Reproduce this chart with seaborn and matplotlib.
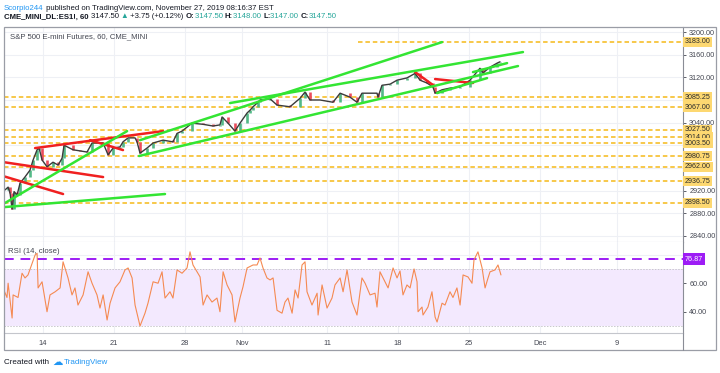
import numpy as np
import matplotlib
matplotlib.use("Agg")
import matplotlib.pyplot as plt
import matplotlib.transforms as mtransforms
from matplotlib.patches import Rectangle
from matplotlib.lines import Line2D
import seaborn as sns

sns.set_style("white")
plt.rcParams['font.family'] = ['Liberation Sans', 'DejaVu Sans']

# ---- datos (x = dias de trading, 0 = 14 oct) ----
price_day = [-2.68, -2.46, -2.32, -2.18, -2.04, -1.83, -1.62, -1.27, -0.92, -0.70,
             -0.42, -0.28, -0.07, 0.28, 0.70, 1.06, 1.34, 1.48, 2.11, 2.61,
             3.10, 3.45, 4.23, 4.58, 4.93, 5.42, 5.63, 5.99, 6.48, 6.62,
             6.83, 7.32, 7.75, 8.45, 9.15, 9.44, 9.79, 10.49, 11.27, 11.97,
             12.46, 12.61, 13.03, 13.52, 13.87, 14.37, 14.58, 14.79, 15.14, 15.28,
             15.99, 16.48, 17.39, 18.10, 18.45, 18.80, 19.51, 20.42, 20.92, 21.62,
             22.11, 22.46, 23.52, 23.59, 23.87, 24.44, 24.93, 25.63, 26.20, 26.55,
             27.04, 27.46, 27.61, 28.10, 28.66, 29.37, 30.07, 30.77, 30.99, 31.48,
             31.97, 32.18]
price_close = [2921, 2926, 2915, 2887, 2918, 2912, 2933, 2944, 2956, 2974,
               2992, 2995, 2974, 2962, 2970, 2965, 2977, 3000, 2992, 2990,
               2988, 3004, 3004, 2983, 2995, 2997, 3006, 3013, 3013, 3006,
               2986, 2995, 3004, 3009, 3006, 3021, 3025, 3039, 3037, 3034,
               3036, 3050, 3039, 3025, 3039, 3057, 3062, 3068, 3076, 3080,
               3082, 3071, 3068, 3083, 3094, 3080, 3080, 3076, 3092, 3085,
               3076, 3092, 3092, 3085, 3106, 3108, 3115, 3119, 3127, 3115,
               3110, 3103, 3092, 3098, 3101, 3103, 3115, 3136, 3128, 3138,
               3145, 3147.5]

rsi_day = [-2.82, -2.54, -2.46, -2.18, -2.11, -1.76, -1.48, -1.27, -1.06, -0.77,
           -0.56, -0.42, -0.35, -0.07, 0.28, 0.49, 0.85, 1.20, 1.41, 1.76,
           2.04, 2.25, 2.46, 2.82, 3.17, 3.45, 3.80, 4.01, 4.23, 4.51,
           4.72, 5.07, 5.42, 5.77, 5.99, 6.27, 6.48, 6.83, 7.18, 7.39,
           7.75, 8.10, 8.38, 8.59, 8.94, 9.15, 9.44, 9.79, 10.14, 10.35,
           10.56, 11.06, 11.27, 11.55, 11.90, 12.25, 12.46, 12.68, 12.96, 13.31,
           13.52, 13.87, 14.08, 14.37, 14.79, 15.07, 15.28, 15.49, 15.77, 15.99,
           16.20, 16.48, 16.83, 17.04, 17.25, 17.54, 17.75, 17.96, 18.24, 18.45,
           18.59, 18.94, 19.30, 19.37, 19.65, 20.00, 20.35, 20.56, 20.92, 21.13,
           21.41, 21.76, 22.11, 22.46, 22.68, 23.03, 23.38, 23.52, 23.73, 24.08,
           24.30, 24.65, 24.93, 25.14, 25.35, 25.63, 25.85, 26.13, 26.34, 26.41,
           26.69, 26.76, 27.11, 27.39, 27.61, 27.75, 28.10, 28.31, 28.66, 28.87,
           29.15, 29.37, 29.58, 29.93, 30.21, 30.35, 30.63, 30.92, 31.13, 31.34,
           31.48, 31.83, 32.04, 32.25]
rsi_val = [56.7, 50, 60, 35.6, 51.8, 50, 67, 63.7, 65.8, 74,
           79.8, 81, 56.7, 61, 40, 51.8, 54, 56.7, 75, 63.7,
           51.8, 56.7, 44.7, 51.8, 68, 60, 51.8, 42.6, 51.8, 34.2,
           46, 56.7, 61, 69.3, 70.7, 63.7, 44.7, 30, 39, 46,
           61, 60, 68, 49.6, 54, 49.6, 69.3, 67, 70.7, 82,
           72.8, 64.4, 44.7, 51.8, 46.8, 49.6, 40, 68, 58.8, 51.8,
           32.8, 49.6, 57.4, 70.7, 72.8, 72.8, 77.7, 70.7, 63.7, 62.3,
           63.7, 41, 39, 46.8, 49.6, 39, 55.3, 49.6, 72.8, 75,
           54, 44.7, 53, 37.7, 58.8, 42.6, 49.6, 58.8, 63.7, 54,
           69.3, 46.8, 37.7, 63.7, 60, 51.8, 53, 43.3, 68, 61,
           56.7, 70.7, 63.7, 68.6, 51.8, 58.8, 56.7, 70, 61, 40,
           43.3, 37.7, 43.3, 54, 36.3, 32.8, 46, 44.7, 54, 50,
           56.7, 44.7, 65.8, 64.4, 60, 76.3, 82, 70.7, 56.7, 63.7,
           68, 69.3, 72.8, 65.8]

levels = [3183, 3085.25, 3067, 3027.5, 3014, 3003.5, 2980.75, 2962, 2936.75, 2898.5]
level_3183_start = 22.2
rsi_last = 76.87

# ticks visibles del eje de precio (los demas quedan tapados por las etiquetas)
price_grid = [2840, 2880, 2920, 2960, 3000, 3040, 3080, 3120, 3160, 3200]
price_ticks = [2840, 2880, 2920, 3040, 3120, 3160, 3200]
rsi_ticks = [40, 60]

# trendlines: (dia0, precio0, dia1, precio1)
red_lines = [(-2.82, 2970.3, 4.23, 2943.8),
             (-2.82, 2945.6, 1.41, 2913.8),
             (-0.56, 2995.0, 8.45, 3025.0),
             (3.31, 3009.0, 5.63, 2991.5),
             (26.20, 3129.3, 27.46, 3106.4),
             (27.61, 3117.0, 30.28, 3110.0)]
green_lines = [(-2.68, 2890.8, 8.59, 2913.8),
               (-2.68, 2897.9, 5.92, 3025.0),
               (6.83, 3009.0, 28.10, 3182.3),
               (13.17, 3074.6, 33.80, 3164.7),
               (6.76, 2981.0, 33.45, 3140.0),
               (27.75, 3092.2, 31.27, 3118.7),
               (30.28, 3129.3, 32.68, 3145.2)]

date_pos = [0, 5, 10, 14, 20, 25, 30, 35, 40.4]
date_lab = ['14', '21', '28', 'Nov', '11', '18', '25', 'Dec', '9']

# ---- figura ----
W, H = 720, 373
fig = plt.figure(figsize=(7.2, 3.73), dpi=100)
fig.patch.set_facecolor('white')

def fx(x):
    return x / W

def fy(y):
    return 1 - y / H

ax = fig.add_axes([fx(4), fy(242), 679 / W, 215 / H])
ax2 = fig.add_axes([fx(4), fy(333), 679 / W, 91 / H])

XMIN, XMAX = -2.75, 45.07
grid_c = '#eef0f5'
axis_c = '#8a8d96'
txt_c = '#434651'

for a in (ax, ax2):
    a.set_xlim(XMIN, XMAX)
    for d in date_pos:
        a.axvline(d, color=grid_c, lw=0.8, zorder=0)
    for s in ('left', 'top'):
        a.spines[s].set_visible(False)
    a.spines['right'].set_color(axis_c)
    a.spines['bottom'].set_color('#c4c6cc')
    a.yaxis.tick_right()
    a.tick_params(axis='y', labelsize=5.2, colors=txt_c, length=2.5, width=0.6, pad=2)

# ---- panel de precio ----
ax.set_ylim(2829, 3209)
ax.set_yticks(price_ticks)
ax.set_yticklabels([f"{v:.2f}" for v in price_ticks])
for v in price_grid:
    ax.axhline(v, color=grid_c, lw=0.8, zorder=0)
ax.set_xticks([])

lab_tr = mtransforms.blended_transform_factory(ax.transAxes, ax.transData)
for lv in levels:
    x0 = level_3183_start if lv == 3183 else XMIN
    ax.hlines(lv, x0, XMAX, colors='#f7c43c', lw=1.3, linestyles=(0, (2.5, 1.6)), zorder=2)
    ax.text(1.003, lv, f"{lv:.2f}", transform=lab_tr,
            ha='left', va='center', fontsize=5.1, color='#2a2a2a', clip_on=False, zorder=5,
            bbox=dict(boxstyle='square,pad=0.22', fc='#fdd871', ec='none'))

# velas (simplificadas)
cols = ['#53b987' if c >= p else '#eb4d5c' for p, c in zip(price_close[:-1], price_close[1:])]
ax.vlines(price_day[1:], price_close[:-1], price_close[1:], colors=cols, lw=1.9, zorder=3)
sns.lineplot(x=price_day, y=price_close, ax=ax, color='#3b3b3b', lw=1.0, zorder=4)

for x0, y0, x1, y1 in red_lines:
    ax.plot([x0, x1], [y0, y1], color='#f02020', lw=1.8, solid_capstyle='round', zorder=5)
for x0, y0, x1, y1 in green_lines:
    ax.plot([x0, x1], [y0, y1], color='#33e533', lw=1.8, solid_capstyle='round', zorder=5)

ax.set_xlabel('')
ax.set_ylabel('')
ax.text(0.009, 0.955, 'S&P 500 E-mini Futures, 60, CME_MINI', transform=ax.transAxes,
        fontsize=5.6, color=txt_c, va='center', ha='left')

# ---- panel RSI ----
ax2.set_ylim(25.1, 88.9)
ax2.set_yticks(rsi_ticks)
ax2.set_yticklabels([f"{v:.2f}" for v in rsi_ticks])
for v in (40, 60, 80):
    ax2.axhline(v, color=grid_c, lw=0.8, zorder=0)
ax2.axhspan(30, 70, color='#f3e9fe', zorder=0.5, lw=0)
for v in (30, 70):
    ax2.axhline(v, color='#c8c8cc', lw=0.7, ls=(0, (1.5, 1.5)), zorder=1)
ax2.axhline(rsi_last, color='#9d1cf5', lw=1.4, ls=(0, (5, 3.5)), zorder=2)
sns.lineplot(x=rsi_day, y=rsi_val, ax=ax2, color='#f58a52', lw=0.8, zorder=3)
ax2.text(1.003, rsi_last, f"{rsi_last:.2f}",
         transform=mtransforms.blended_transform_factory(ax2.transAxes, ax2.transData),
         ha='left', va='center', fontsize=5.2, color='white', clip_on=False, zorder=6,
         bbox=dict(boxstyle='square,pad=0.3', fc='#9d1cf5', ec='none'))
ax2.set_xticks(date_pos)
ax2.set_xticklabels(date_lab)
ax2.tick_params(axis='x', labelsize=5.4, colors=txt_c, length=2.5, width=0.6, pad=2.5)
ax2.set_xlabel('')
ax2.set_ylabel('')
ax2.text(0.006, 0.9, 'RSI (14, close)', transform=ax2.transAxes,
         fontsize=5.6, color=txt_c, va='center', ha='left')

# marco
fig.add_artist(Rectangle((fx(4), fy(350)), 712 / W, 323 / H, transform=fig.transFigure,
                         fill=False, ec='#9a9da6', lw=0.9))
fig.add_artist(Line2D([fx(683), fx(683)], [fy(333), fy(350)], transform=fig.transFigure,
                      color=axis_c, lw=0.8))

# encabezado
renderer = fig.canvas.get_renderer()

def write_run(x_px, y_px, pieces, size=5.6):
    x = x_px
    for txt, col, wt in pieces:
        t = fig.text(fx(x), fy(y_px), txt, color=col, fontsize=size, fontweight=wt,
                     ha='left', va='center')
        x += t.get_window_extent(renderer=renderer).width
    return x

teal = '#26a69a'
dark = '#131722'
write_run(4, 8, [('Scorpio244', '#2196f3', 'normal'),
                 (' published on TradingView.com, November 27, 2019 08:16:37 EST', dark, 'normal')])
write_run(4, 17, [('CME_MINI_DL:ES1!, 60 ', dark, 'bold'),
                  ('3147.50 ', dark, 'normal'), ('\u25b2', teal, 'normal'),
                  (' +3.75 (+0.12%) ', dark, 'normal'),
                  ('O:', dark, 'bold'), ('3147.50 ', teal, 'normal'),
                  ('H:', dark, 'bold'), ('3148.00 ', teal, 'normal'),
                  ('L:', dark, 'bold'), ('3147.00 ', teal, 'normal'),
                  ('C:', dark, 'bold'), ('3147.50', teal, 'normal')], size=5.55)
xe = write_run(4, 362, [('Created with ', dark, 'normal')], size=5.8)
fig.text(fx(xe + 1), fy(362), '\u2601', color='#2196f3', fontsize=7.5, family='DejaVu Sans',
         ha='left', va='center')
fig.text(fx(xe + 13), fy(362), 'TradingView', color='#2196f3', fontsize=5.8, ha='left', va='center')

fig.savefig('out.png', dpi=100)
